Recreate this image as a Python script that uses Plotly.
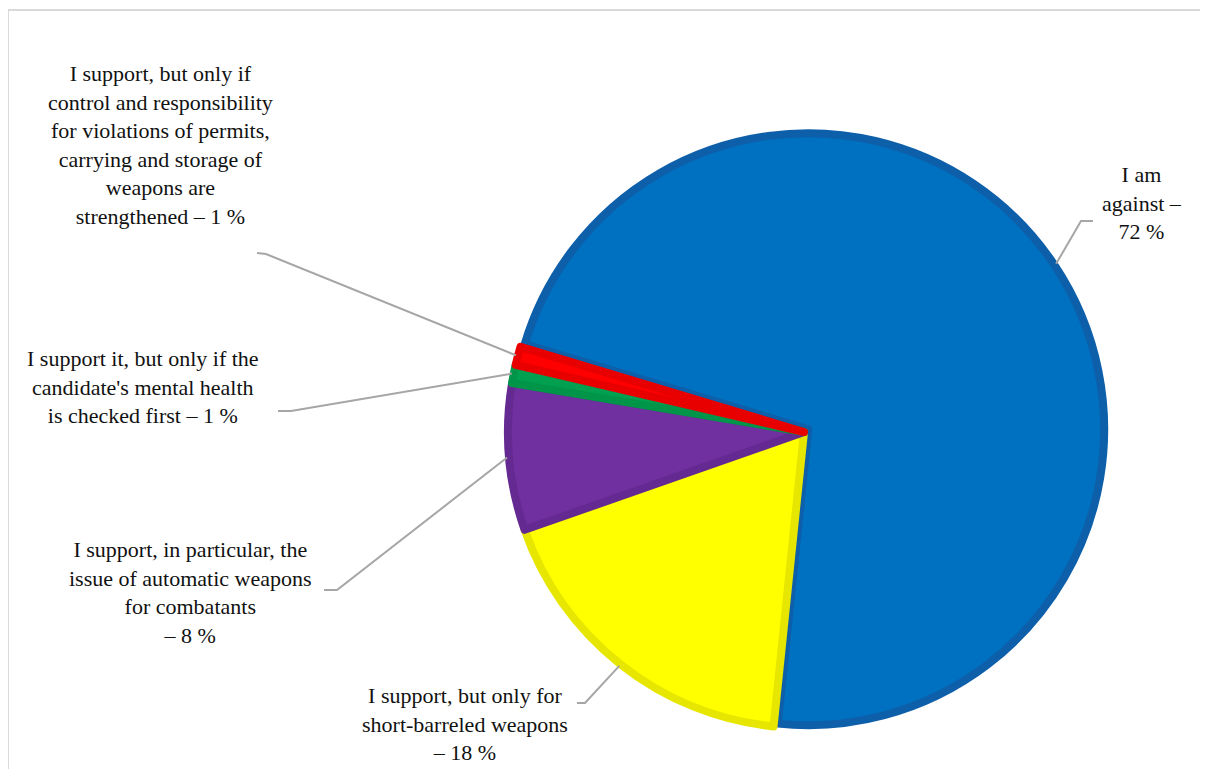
import math
import plotly.graph_objects as go

# ---- data ----
categories = [
    "I am against",
    "I support, but only for short-barreled weapons",
    "I support, in particular, the issue of automatic weapons for combatants",
    "I support it, but only if the candidate's mental health is checked first",
    "I support, but only if control and responsibility for violations of permits, carrying and storage of weapons are strengthened",
]
values = [72, 18, 8, 1, 1]
fill_colors = ["#0070C0", "#FFFF00", "#7030A0", "#00A050", "#FF0000"]
rim_colors = ["#0E5FA9", "#E6E600", "#652A91", "#009548", "#E80000"]

label_texts = [
    "I am<br>against –<br>72 %",
    "I support, but only for<br>short-barreled weapons<br>– 18 %",
    "I support, in particular, the<br>issue of automatic weapons<br>for combatants<br>– 8 %",
    "I support it, but only if the<br>candidate's mental health<br>is checked first – 1 %",
    "I support, but only if<br>control and responsibility<br>for violations of permits,<br>carrying and storage of<br>weapons are<br>strengthened – 1 %",
]

# ---- layout constants (reference pixels) ----
OFF = 8                    # page body margin
W, H = 1200, 761
CX, CY = 804, 432          # pie centre
R = 296                    # pie radius
PULL = [0.017, 0, 0, 0, 0]
ROTATION = 286.7
label_centers = [(1142, 203), (465, 724), (190, 592), (143, 387), (160, 145)]
label_ends = [(1093, 221), (577, 703), (324, 590), (278, 411), (257, 253)]
label_elbows = [(1081, 221), (585, 703), (337, 590), (291, 411), (266, 254)]


def px(x):
    return (x - OFF) / W


def py(y):
    return 1 - (y - OFF) / H


half = R * (1 + max(PULL))
fig = go.Figure(go.Pie(
    labels=categories,
    values=values,
    sort=False,
    direction="clockwise",
    rotation=ROTATION,
    pull=PULL,
    textinfo="none",
    hoverinfo="label+percent",
    marker=dict(colors=fill_colors, line=dict(color=rim_colors, width=8)),
    domain=dict(x=[px(CX - half), px(CX + half)], y=[py(CY + half), py(CY - half)]),
    showlegend=False,
))

shapes = [dict(type="rect", xref="paper", yref="paper",
               x0=px(8), y0=py(800), x1=px(1240), y1=py(10),
               line=dict(color="#D9D9D9", width=2), layer="below")]
annotations = []
total = sum(values)
cum = 0
for i, v in enumerate(values):
    mid = math.radians(ROTATION + (cum + v / 2) / total * 360)
    cum += v
    off = PULL[i] * R
    ex = CX + (R + 2 + off) * math.sin(mid)
    ey = CY - (R + 2 + off) * math.cos(mid)
    (tx, ty), (bx, by) = label_ends[i], label_elbows[i]
    path = f"M {px(tx)},{py(ty)} L {px(bx)},{py(by)} L {px(ex)},{py(ey)}"
    shapes.append(dict(type="path", xref="paper", yref="paper", path=path,
                       line=dict(color="#A6A6A6", width=2)))
    lx, ly = label_centers[i]
    annotations.append(dict(x=px(lx), y=py(ly), xref="paper", yref="paper",
                            text=label_texts[i], showarrow=False,
                            xanchor="center", yanchor="middle", align="center",
                            font=dict(family="Liberation Serif", size=22, color="#111111")))

fig.update_layout(
    width=W, height=H,
    margin=dict(l=0, r=0, t=0, b=0),
    paper_bgcolor="white",
    plot_bgcolor="white",
    shapes=shapes,
    annotations=annotations,
)
fig.write_html("out.html")
